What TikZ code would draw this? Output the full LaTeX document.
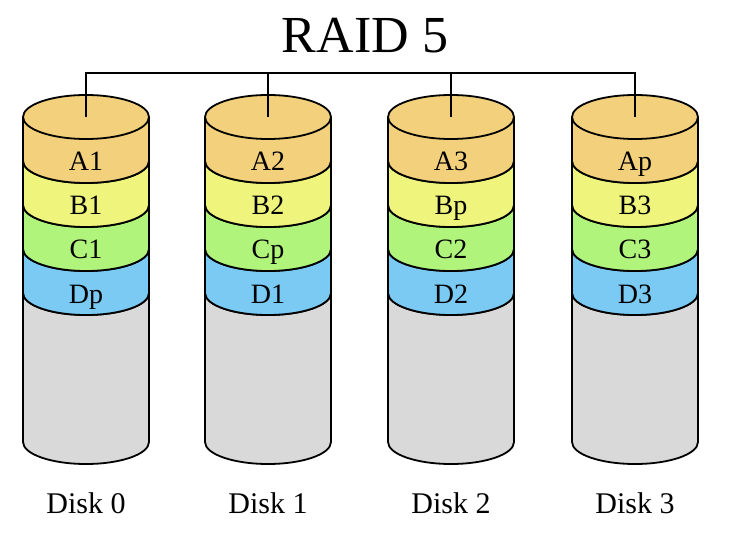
\documentclass[tikz,border=0pt]{standalone}
\usepackage{fontspec}
\setmainfont{Liberation Serif}
\definecolor{cA}{HTML}{F3D07C}
\definecolor{cB}{HTML}{EEF47C}
\definecolor{cC}{HTML}{B0F47C}
\definecolor{cD}{HTML}{7ACAF4}
\definecolor{cG}{HTML}{D9D9D9}
\tikzset{
  edge/.style={draw=black,line width=1.8pt,line join=round},
  lbl/.style={anchor=base,inner sep=0pt,font=\fontsize{28}{32}\selectfont},
  disklbl/.style={anchor=base,inner sep=0pt,font=\fontsize{30}{34}\selectfont},
  titlelbl/.style={anchor=base,inner sep=0pt,font=\fontsize{52}{60}\selectfont},
  bus/.style={draw=black,line width=1.8pt}
}
% y axis points down: angle 90 is the lowest point on screen
\newcommand{\band}[4]{% cx, y1, y2, color
  \filldraw[fill=#4,edge] (#1-63,#2) -- (#1-63,#3) arc[start angle=180,end angle=0,x radius=63,y radius=22] -- (#1+63,#2) arc[start angle=0,end angle=180,x radius=63,y radius=22] -- cycle;
}
\newcommand{\diskdraw}[7]{% name, cx, A, B, C, D, label
  \filldraw[fill=cG,edge] (#2-63,293) -- (#2-63,442) arc[start angle=180,end angle=0,x radius=63,y radius=22] -- (#2+63,293) arc[start angle=0,end angle=180,x radius=63,y radius=22] -- cycle;
  \band{#2}{249}{293}{cD}
  \band{#2}{205}{249}{cC}
  \band{#2}{161}{205}{cB}
  \filldraw[fill=cA,edge] (#2-63,117) -- (#2-63,161) arc[start angle=180,end angle=0,x radius=63,y radius=22] -- (#2+63,117) arc[start angle=0,end angle=-180,x radius=63,y radius=22] -- cycle;
  \draw[edge] (#2-63,117) arc[start angle=180,end angle=0,x radius=63,y radius=22];
  \coordinate (#1top) at (#2,117);
  \node[lbl] (#1a) at (#2,171) {#3};
  \node[lbl] (#1b) at (#2,215) {#4};
  \node[lbl] (#1c) at (#2,259) {#5};
  \node[lbl] (#1d) at (#2,303) {#6};
  \node[disklbl] (#1name) at (#2,513) {#7};
}
\begin{document}
\begin{tikzpicture}[x=1pt,y=-1pt]
\useasboundingbox (0,0) rectangle (746,534);
\node[titlelbl] (title) at (365,53) {RAID 5};
\coordinate (busline) at (0,73);
\diskdraw{dz}{86}{A1}{B1}{C1}{Dp}{Disk 0}
\diskdraw{do}{268}{A2}{B2}{Cp}{D1}{Disk 1}
\diskdraw{dt}{451}{A3}{Bp}{C2}{D2}{Disk 2}
\diskdraw{dh}{635}{Ap}{B3}{C3}{D3}{Disk 3}
\draw[bus] (dztop) -- (dztop |- busline) -- (dhtop |- busline) -- (dhtop);
\draw[bus] (dotop) -- (dotop |- busline);
\draw[bus] (dttop) -- (dttop |- busline);
\end{tikzpicture}
\end{document}
